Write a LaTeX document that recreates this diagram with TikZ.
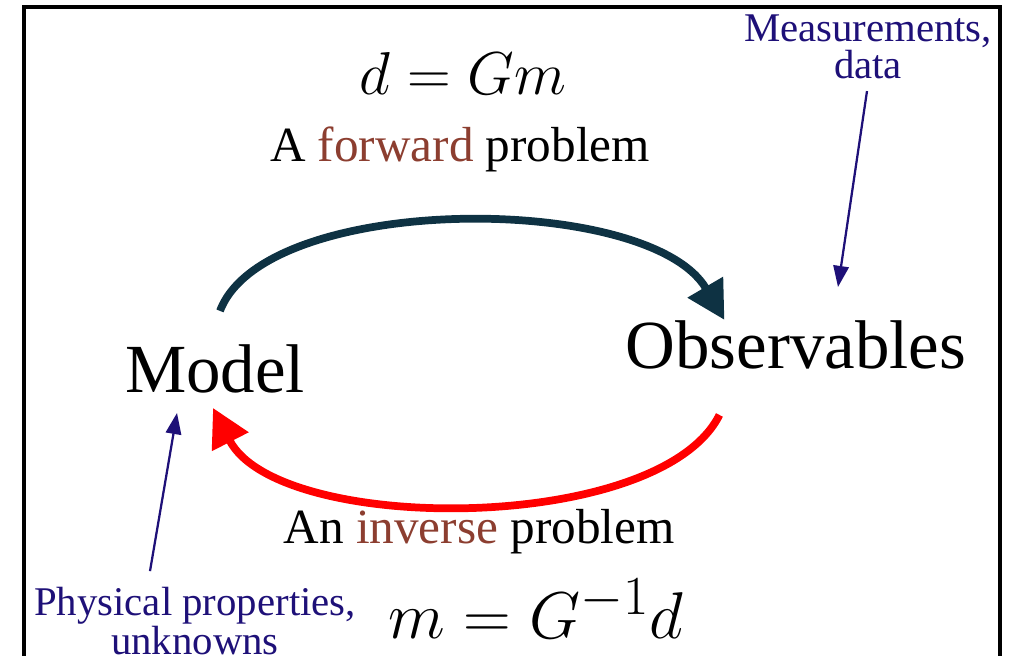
\documentclass[tikz,border=0pt]{standalone}
\usepackage{fontspec}
\setmainfont{Liberation Serif}
\usepackage{xcolor}
\usepackage{graphicx}
\usetikzlibrary{positioning, arrows.meta, calc}

\definecolor{fwdblue}{HTML}{0E3243}
\definecolor{wordbrown}{RGB}{140,62,48}
\definecolor{notenavy}{RGB}{30,16,120}

\begin{document}
\begin{tikzpicture}[x=0.025cm, y=-0.025cm,
    big/.style={inner sep=0pt, anchor=base, font=\fontsize{49}{55}\selectfont},
    phrase/.style={inner sep=0pt, anchor=base, font=\fontsize{35}{40}\selectfont},
    eqn/.style={inner sep=0pt, anchor=base, font=\Huge},
    note/.style={inner sep=0pt, align=center, text=notenavy, font=\fontsize{29}{26}\selectfont},
    cyclearrow/.style={line width=5.5pt, -{Triangle[length=27pt, width=28pt]}},
    pointer/.style={line width=1.6pt, draw=notenavy, -{Triangle[length=15pt, width=11pt]}}
]
\useasboundingbox (0,0) rectangle (1009,656);
\draw[line width=2.2pt] (24,660) -- (24,7) -- (1000,7) -- (1000,660);

\node[eqn] (fwdeq) at (463,95) {\scalebox{1.73}{$d = Gm$}};
\node[phrase] (fwdtxt) at (460,162) {A \textcolor{wordbrown}{forward} problem};

\node[big] (model) at (215,393) {Model};
\node[big] (obs) at (796,368) {Observables};

\node[phrase] (invtxt) at (479,543) {An \textcolor{wordbrown}{inverse} problem};
\node[eqn] (inveq) at (536,638) {\scalebox{1.89}{$m = G^{-1}d$}};

\node[note] (meas) at (868,47) {Measurements,\\data};
\node[note] (phys) at (195,621) {Physical properties,\\unknowns};

% forward and inverse arcs
\draw[cyclearrow, draw=fwdblue] ($(model.north)+(5,-34)$) .. controls +(45,-119) and +(-75,-128) .. ($(obs.north west)+(99,0)$);
\draw[cyclearrow, draw=red] ($(obs.south west)+(94,46)$) .. controls +(-60,120) and +(65,127) .. ($(model.south)+(-2,14)$);

% annotation pointers
\coordinate (obsdot) at (838,287);
\coordinate (modeldot) at (177,413);
\draw[pointer] ($(meas.south)+(-1,12)$) -- (obsdot);
\draw[pointer] ($(phys.north)+(-45,-16)$) -- (modeldot);

\end{tikzpicture}
\end{document}
